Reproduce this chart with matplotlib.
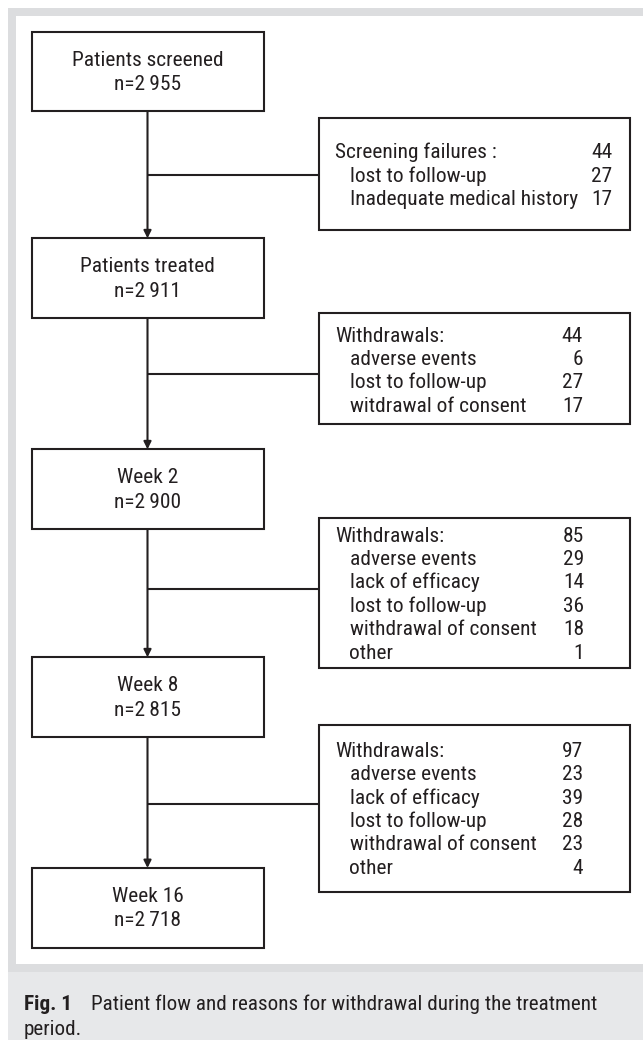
import os
import matplotlib
matplotlib.use("Agg")
import matplotlib.pyplot as plt
from matplotlib import font_manager as fm
from matplotlib.patches import Rectangle

# --- data ---
stage_names = ['Patients screened', 'Patients treated', 'Week 2', 'Week 8', 'Week 16']
stage_n = [2955, 2911, 2900, 2815, 2718]

side_headers = ['Screening failures :', 'Withdrawals:', 'Withdrawals:', 'Withdrawals:']
side_totals = [44, 44, 85, 97]
side_reasons = [
    ['lost to follow-up', 'Inadequate medical history'],
    ['adverse events', 'lost to follow-up', 'witdrawal of consent'],
    ['adverse events', 'lack of efficacy', 'lost to follow-up', 'withdrawal of consent', 'other'],
    ['adverse events', 'lack of efficacy', 'lost to follow-up', 'withdrawal of consent', 'other'],
]
side_counts = [[27, 17], [6, 27, 17], [29, 14, 36, 18, 1], [23, 39, 28, 23, 4]]

caption_bold = 'Fig. 1'
caption_lines = ['Patient flow and reasons for withdrawal during the treatment', 'period.']

# --- layout (pixels, y downwards) ---
W, H = 643, 1040
box_x0, box_x1 = 31.5, 263.5
box_top = [31.7, 238.3, 449.3, 657.3, 868.0]
box_h = 79.5
side_x0, side_x1 = 319.0, 630.0
side_top = [118.3, 313.3, 517.7, 725.0]
side_bot = [230.0, 424.3, 668.3, 892.3]
side_base0 = [158.3, 341.7, 541.7, 756.7]   # baseline of the header row
row_step = 23.4
side_num_right = [612.5, 583.0, 584.0, 583.0]
branch_y = [175.0, 374.3, 589.3, 804.0]
ink = '#231f20'
frame_grey = '#dcdddf'
caption_grey = '#e7e8ea'


def find_font(bold=False):
    prefs = ['robotocondensed', 'liberationsansnarrow', 'notosanscondensed',
             'opensanscondensed', 'dejavusanscondensed']
    files = [f.fname for f in fm.fontManager.ttflist]
    for p in prefs:
        for f in files:
            b = os.path.basename(f).lower().replace('_', '-')
            if not b.replace('-', '').startswith(p):
                continue
            if any(w in b for w in ('italic', 'oblique', 'light', 'semi', 'extra', 'medium', 'black', 'thin')):
                continue
            if bold == ('bold' in b):
                return fm.FontProperties(fname=f)
    return fm.FontProperties(family=['Roboto', 'DejaVu Sans'], weight='bold' if bold else 'normal')


fp = find_font()
fp_bold = find_font(bold=True)

fig = plt.figure(figsize=(W / 100, H / 100), dpi=100)
ax = fig.add_axes([0, 0, 1, 1])
ax.set_xlim(0, W)
ax.set_ylim(H, 0)
ax.axis('off')
fig.canvas.draw()
renderer = fig.canvas.get_renderer()


def width_at(s, prop, size):
    t = ax.text(0, 0, s, fontproperties=prop, fontsize=size)
    w = t.get_window_extent(renderer=renderer).width
    t.remove()
    return w


# pick font sizes so the text widths match the picture
targets = [('Patients screened', 144), ('Inadequate medical history', 223),
           ('withdrawal of consent', 190), ('Withdrawals:', 113)]
ratios = [tw / width_at(s, fp, 10) for s, tw in targets]
fs = 10 * sum(ratios) / len(ratios)
fs_cap = 10 * 503 / width_at(caption_lines[0], fp, 10)

# background: grey frame, white panel, caption band
ax.add_patch(Rectangle((8, 8), W - 8, 964, facecolor=frame_grey, edgecolor='none', zorder=0))
ax.add_patch(Rectangle((16, 16), W - 16, 948, facecolor='white', edgecolor='none', zorder=0))
ax.add_patch(Rectangle((8, 972), W - 8, H - 972, facecolor=caption_grey, edgecolor='none', zorder=0))

cx = (box_x0 + box_x1) / 2
lw = 1.5
txt = dict(color=ink, fontproperties=fp, fontsize=fs, va='baseline', zorder=4)

for i, (name, n) in enumerate(zip(stage_names, stage_n)):
    top = box_top[i]
    ax.add_patch(Rectangle((box_x0, top), box_x1 - box_x0, box_h, facecolor='white',
                           edgecolor=ink, lw=lw, zorder=3))
    mid = top + box_h / 2
    ax.text(cx, mid - 5.7, name, ha='center', **txt)
    ax.text(cx, mid + 18.5, f'n={n // 1000}\u2009{n % 1000:03d}', ha='center', **txt)
    if i < len(stage_names) - 1:
        ax.annotate('', xy=(cx, box_top[i + 1]), xytext=(cx, top + box_h),
                    arrowprops=dict(arrowstyle='-|>', color=ink, lw=lw, mutation_scale=11,
                                    shrinkA=0, shrinkB=0), zorder=2)

for j in range(len(side_headers)):
    ax.add_patch(Rectangle((side_x0, side_top[j]), side_x1 - side_x0, side_bot[j] - side_top[j],
                           facecolor='white', edgecolor=ink, lw=lw, zorder=3))
    ax.plot([cx, side_x0], [branch_y[j], branch_y[j]], color=ink, lw=lw, zorder=2,
            solid_capstyle='butt')
    y = side_base0[j]
    ax.text(335, y, side_headers[j], ha='left', **txt)
    ax.text(side_num_right[j], y, str(side_totals[j]), ha='right', **txt)
    for k, (lab, c) in enumerate(zip(side_reasons[j], side_counts[j])):
        yy = y + (k + 1) * row_step
        ax.text(349.5, yy, lab, ha='left', **txt)
        ax.text(side_num_right[j], yy, str(c), ha='right', **txt)

# caption
ax.text(24, 1010, caption_bold, ha='left', va='baseline', color=ink, fontproperties=fp_bold, fontsize=fs_cap)
ax.text(91, 1010, caption_lines[0], ha='left', va='baseline', color=ink, fontproperties=fp, fontsize=fs_cap)
ax.text(24, 1035, caption_lines[1], ha='left', va='baseline', color=ink, fontproperties=fp, fontsize=fs_cap)

fig.savefig('out.png', dpi=100, facecolor='white')
